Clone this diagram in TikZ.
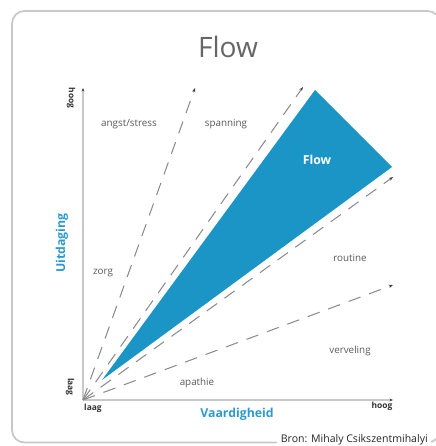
\documentclass[tikz,border=0pt]{standalone}
\usepackage{fontspec}
\setmainfont{Open Sans}
\usepackage{tikz}
\usetikzlibrary{arrows.meta}
\definecolor{flowblue}{HTML}{1B95C6}
\definecolor{labelblue}{HTML}{2B9AD0}
\definecolor{framegray}{HTML}{C8C8C8}
\definecolor{dashgray}{HTML}{8C8C8C}
\tikzstyle{axis} = [line width=0.6pt,draw=framegray,-{Stealth[length=2pt,width=1.6pt,color=black!75]}]
\tikzstyle{border} = [line width=0.6pt,draw=dashgray,dash pattern=on 7.2pt off 5.2pt,-{Stealth[length=2.4pt,width=1.8pt,color=black!75]}]
\tikzstyle{zone} = [font=\fontsize{5.6}{6}\selectfont,text=black!65,inner sep=0pt]
\tikzstyle{tick} = [font=\fontsize{4.8}{5}\selectfont\bfseries,text=black!80,inner sep=0pt]
\tikzstyle{axislabel} = [font=\fontsize{7}{8}\selectfont\bfseries,text=labelblue,inner sep=0pt]

\begin{document}
\begin{tikzpicture}

        \useasboundingbox (0, 0) -- (0, 8.92) -- (8.72, 8.92) -- (8.72, 0) -- cycle;

        % Frame around the figure
        \draw[framegray,line width=1pt,rounded corners=0.25cm] (0.24, 0.07) rectangle (8.80, 8.70);

        % Title
        \node (title) at (4.56, 7.98) {\fontsize{16}{18}\selectfont\color{black!60} Flow};

        % Corner points of the diagram
        \coordinate (origin) at (1.66, 0.92);
        \coordinate (ytop) at (1.66, 7.16);
        \coordinate (xend) at (7.86, 0.92);
        \coordinate (angst) at (3.90, 7.16);
        \coordinate (span) at (6.06, 7.18);
        \coordinate (rout) at (7.86, 5.38);
        \coordinate (verv) at (7.86, 3.22);

        % Flow channel
        \coordinate (apex) at (2.04, 1.32);
        \coordinate (flowtop) at (6.30, 7.12);
        \coordinate (flowright) at (7.84, 5.58);
        \fill[flowblue] (apex) -- (flowtop) -- (flowright) -- cycle;
        \node[text=white,font=\fontsize{7}{8}\selectfont\bfseries] (flow) at (6.34, 5.72) {Flow};

        % Axes
        \draw[axis] (origin) -- (ytop);
        \draw[axis] (origin) -- (xend);

        % Dashed borders between the zones
        \draw[border] (origin) -- (angst);     % zorg / angst
        \draw[border] (origin) -- (span);      % spanning / flow
        \draw[border] (origin) -- (rout);      % flow / routine
        \draw[border] (origin) -- (verv);      % routine / verveling

        % Zone labels
        \node[zone] (angstlabel) at (2.58, 6.44) {angst/stress};
        \node[zone] (spanlabel) at (4.52, 6.44) {spanning};
        \node[zone] (zorglabel) at (2.06, 3.46) {zorg};
        \node[zone] (routlabel) at (7.00, 3.76) {routine};
        \node[zone] (vervlabel) at (7.00, 1.90) {verveling};
        \node[zone] (apathlabel) at (3.94, 1.26) {apathie};

        % Axis labels
        \node[tick,rotate=-90] (yhigh) at (1.42, 6.96) {hoog};
        \node[tick,rotate=-90] (ylow) at (1.40, 1.18) {laag};
        \node[tick] (xlow) at (1.86, 0.76) {laag};
        \node[tick] (xhigh) at (7.64, 0.80) {hoog};
        \node[axislabel,rotate=90] (ylabel) at (1.24, 4.06) {Uitdaging};
        \node[axislabel] (xlabel) at (4.74, 0.64) {Vaardigheid};

        % Source
        \node[fill=white,anchor=west,inner xsep=2pt,inner ysep=0.5pt,font=\fontsize{6}{6.5}\selectfont,text=black!85] (source) at (5.54, 0.12) {Bron: Mihaly Csikszentmihalyi};

\end{tikzpicture}
\end{document}
